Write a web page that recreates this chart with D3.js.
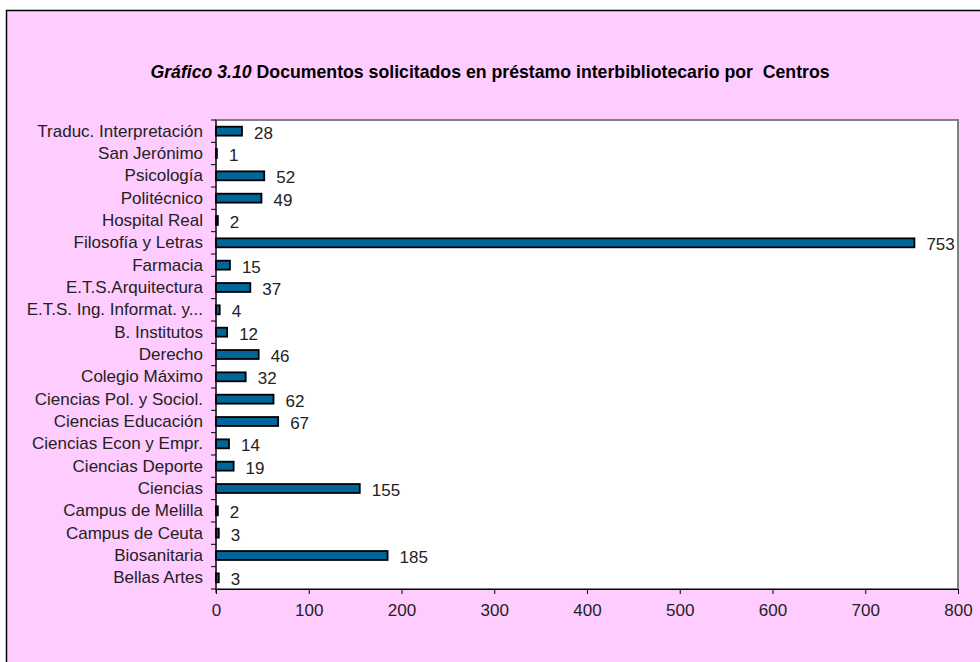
<!DOCTYPE html>
<html>
<head>
<meta charset="utf-8">
<script src="https://cdn.jsdelivr.net/npm/d3@7"></script>
<style>
  body { margin: 0; background: #fff; }
  svg text { font-family: "Liberation Sans", Arial, sans-serif; }
</style>
</head>
<body>
<svg id="chart" width="980" height="662"></svg>
<script>
// centros, de arriba a abajo como en el grafico
var centros = ["Traduc. Interpretación", "San Jerónimo", "Psicología", "Politécnico",
  "Hospital Real", "Filosofía y Letras", "Farmacia", "E.T.S.Arquitectura",
  "E.T.S. Ing. Informat. y...", "B. Institutos", "Derecho", "Colegio Máximo",
  "Ciencias Pol. y Sociol.", "Ciencias Educación", "Ciencias Econ y Empr.",
  "Ciencias Deporte", "Ciencias", "Campus de Melilla", "Campus de Ceuta",
  "Biosanitaria", "Bellas Artes"];
var documentos = [28, 1, 52, 49, 2, 753, 15, 37, 4, 12, 46, 32, 62, 67, 14, 19, 155, 2, 3, 185, 3];
var ticksX = [0, 100, 200, 300, 400, 500, 600, 700, 800];

var datos = centros.map(function(c, i) { return { centro: c, valor: documentos[i] }; });

var svg = d3.select("#chart");

// fondo rosa con borde
svg.append("rect")
  .attr("x", 6.5).attr("y", 10.5)
  .attr("width", 1000).attr("height", 700)
  .attr("fill", "#ffccff")
  .attr("stroke", "#000").attr("stroke-width", 1.5);

// titulo
var titulo = svg.append("text")
  .attr("x", 490).attr("y", 78)
  .attr("text-anchor", "middle")
  .attr("font-size", 17.7)
  .attr("font-weight", "bold")
  .attr("fill", "#000")
  .style("white-space", "pre");
titulo.append("tspan").attr("font-style", "italic").text("Gráfico 3.10");
titulo.append("tspan").text(" Documentos solicitados en préstamo interbibliotecario por  Centros");

var izq = 216, der = 958, arriba = 120, abajo = 589;

var x = d3.scaleLinear().domain([0, 800]).range([izq, der]);
var y = d3.scaleBand().domain(centros).range([arriba, abajo]).paddingInner(0.6).paddingOuter(0.3);

// area del grafico
svg.append("rect")
  .attr("x", izq).attr("y", arriba)
  .attr("width", der - izq).attr("height", abajo - arriba)
  .attr("fill", "#fff")
  .attr("stroke", "#808080").attr("stroke-width", 2);

// barras
svg.selectAll("rect.barra")
  .data(datos)
  .enter()
  .append("rect")
  .attr("class", "barra")
  .attr("x", x(0))
  .attr("y", function(d) { return y(d.centro); })
  .attr("width", function(d) { return x(d.valor) - x(0); })
  .attr("height", y.bandwidth())
  .attr("fill", "#006699")
  .attr("stroke", "#000")
  .attr("stroke-width", 1.8);

// etiquetas de valor
svg.selectAll("text.valor")
  .data(datos)
  .enter()
  .append("text")
  .attr("class", "valor")
  .attr("x", function(d) { return x(d.valor) + 12; })
  .attr("y", function(d) { return y(d.centro) + y.bandwidth() / 2 + 7.5; })
  .attr("font-size", 17)
  .attr("fill", "#222")
  .text(function(d) { return d.valor; });

// eje Y (ticks entre categorias)
var yBorde = d3.scaleLinear().domain([0, centros.length]).range([arriba, abajo]);
var gy = svg.append("g").attr("transform", "translate(" + izq + ",0)");
gy.append("line").attr("x1", 0).attr("x2", 0).attr("y1", arriba).attr("y2", abajo + 4)
  .attr("stroke", "#000").attr("stroke-width", 1);
gy.selectAll("line.tick")
  .data(d3.range(centros.length + 1))
  .enter()
  .append("line")
  .attr("class", "tick")
  .attr("x1", -5).attr("x2", 0)
  .attr("y1", function(i) { return yBorde(i); })
  .attr("y2", function(i) { return yBorde(i); })
  .attr("stroke", "#000");
gy.selectAll("text")
  .data(centros)
  .enter()
  .append("text")
  .attr("x", -13)
  .attr("y", function(c) { return y(c) + y.bandwidth() / 2 + 5.5; })
  .attr("text-anchor", "end")
  .attr("font-size", 17)
  .attr("fill", "#222")
  .text(function(c) { return c; });

// eje X
var ejeX = d3.axisBottom(x).tickValues(ticksX).tickSize(5).tickPadding(10);
var gx = svg.append("g")
  .attr("transform", "translate(0," + abajo + ")")
  .call(ejeX);
gx.select(".domain").attr("stroke", "#000");
gx.selectAll(".tick line").attr("stroke", "#000");
gx.selectAll(".tick text")
  .attr("font-size", 17)
  .attr("fill", "#222")
  .attr("font-family", "Liberation Sans, Arial, sans-serif");
</script>
</body>
</html>
